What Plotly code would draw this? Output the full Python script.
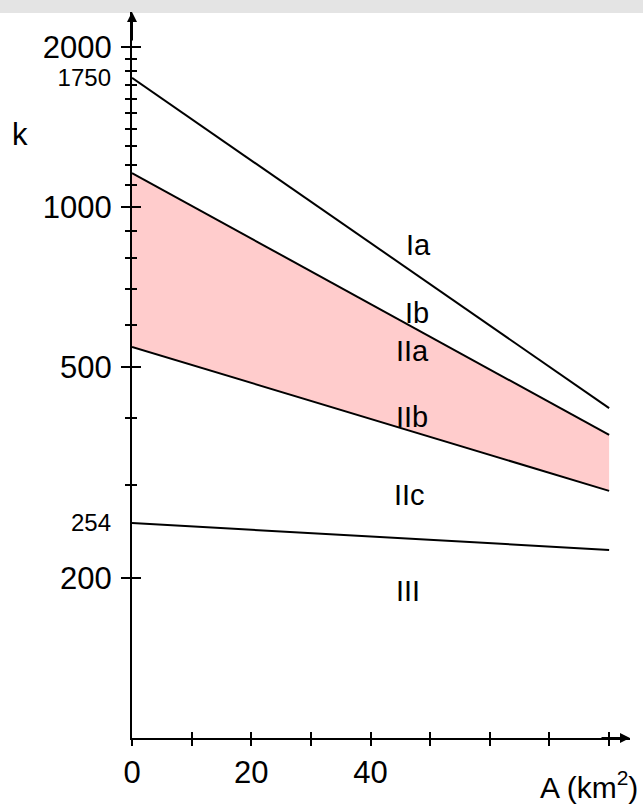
import math
import plotly.graph_objects as go

# ---- data ----
area = [0, 80]                 # A (km^2), start and end of every boundary line
k_Ia = [1750, 418]             # upper line (Ia)
k_upper = [1158, 372]          # Ib / IIa boundary (top of shaded band)
k_lower = [545, 292]           # IIb / IIc boundary (bottom of shaded band)
k_III = [254, 226]             # IIc / III boundary

zone_labels = ["Ia", "Ib", "IIa", "IIb", "IIc", "III"]
label_A = [48.0, 47.8, 47.0, 47.0, 46.6, 46.3]
label_k = [847, 631, 535, 402, 287, 189]

y_major = [200, 500, 1000, 2000]
y_minor = [300, 400, 600, 700, 800, 900, 1100, 1200, 1300, 1400, 1500,
           1600, 1700, 1800, 1900]
y_special = [254, 1750]
x_labeled = [0, 20, 40]
x_minor = [10, 30, 50, 60, 70, 80]

FONT = "Liberation Sans, Arial, sans-serif"
BLACK = "#000000"
PINK = "#ffcccc"

fig = go.Figure()

# shaded band between the two middle boundaries
fig.add_trace(go.Scatter(
    x=area + area[::-1], y=k_lower + k_upper[::-1],
    fill="toself", fillcolor=PINK, line=dict(width=0),
    mode="lines", hoverinfo="skip", showlegend=False))

for ys in (k_Ia, k_upper, k_lower, k_III):
    fig.add_trace(go.Scatter(x=area, y=ys, mode="lines",
                             line=dict(color=BLACK, width=2),
                             showlegend=False, hoverinfo="skip"))

# empty traces so the overlay axes are drawn
fig.add_trace(go.Scatter(x=[], y=[], xaxis="x2", yaxis="y2", showlegend=False))
fig.add_trace(go.Scatter(x=[], y=[], xaxis="x", yaxis="y3", showlegend=False))

for lab, xa, ka in zip(zone_labels, label_A, label_k):
    fig.add_annotation(x=xa, y=math.log10(ka), text=lab,
                       showarrow=False, xanchor="center", yanchor="middle",
                       font=dict(family=FONT, size=29, color=BLACK))

YR = [2, 3.367]
XR = [0, 83.5]

tick_common = dict(tickwidth=2, tickcolor=BLACK, showgrid=False, zeroline=False)

fig.update_layout(
    width=643, height=804,
    margin=dict(l=132, r=13, t=12, b=66),
    paper_bgcolor="white", plot_bgcolor="white",
    font=dict(family=FONT, color=BLACK),
    xaxis=dict(range=XR, showline=True, linecolor=BLACK, linewidth=2,
               ticks="outside", ticklen=6, tickvals=x_labeled,
               ticktext=[str(v) for v in x_labeled],
               tickfont=dict(size=31, family=FONT, color=BLACK),
               minor=dict(tickmode="array", tickvals=x_minor, ticks="outside",
                          ticklen=6, tickwidth=2, tickcolor=BLACK,
                          showgrid=False),
               anchor="y", **tick_common),
    xaxis2=dict(range=XR, overlaying="x", side="bottom", anchor="y",
                showline=False, ticks="inside", ticklen=6,
                tickvals=x_labeled + x_minor, showticklabels=False,
                **tick_common),
    yaxis=dict(type="log", range=YR, showline=True, linecolor=BLACK,
               linewidth=2, ticks="outside", ticklen=9, tickvals=y_major,
               ticktext=[str(v) for v in y_major],
               tickfont=dict(size=31, family=FONT, color=BLACK),
               ticklabelstandoff=3,
               minor=dict(tickmode="array", tickvals=y_minor, ticks="outside",
                          ticklen=5, tickwidth=2, tickcolor=BLACK,
                          showgrid=False),
               anchor="x", **tick_common),
    yaxis2=dict(type="log", range=YR, overlaying="y", side="left",
                anchor="x", showline=False, ticks="inside", ticklen=9,
                tickvals=y_major, showticklabels=False,
                minor=dict(tickmode="array", tickvals=y_minor, ticks="inside",
                           ticklen=5, tickwidth=2, tickcolor=BLACK,
                           showgrid=False),
                **tick_common),
    yaxis3=dict(type="log", range=YR, overlaying="y", side="left",
                anchor="x", showline=False, ticks="", tickvals=y_special,
                ticktext=[str(v) for v in y_special],
                tickfont=dict(size=24, family=FONT, color=BLACK),
                ticklabelstandoff=20, showgrid=False, zeroline=False),
)

# axis arrows
fig.add_annotation(xref="paper", yref="paper", x=0, y=1, ax=0, ay=30,
                   text="", showarrow=True, arrowhead=2, arrowsize=1,
                   arrowwidth=2, arrowcolor=BLACK)
fig.add_annotation(xref="paper", yref="paper", x=1, y=0, ax=-30, ay=0,
                   text="", showarrow=True, arrowhead=2, arrowsize=1,
                   arrowwidth=2, arrowcolor=BLACK)

# axis titles
fig.add_annotation(xref="paper", yref="paper", x=-0.225, y=0.8306, text="k",
                   showarrow=False, xanchor="center", yanchor="middle",
                   font=dict(family=FONT, size=31, color=BLACK))
fig.add_annotation(xref="paper", yref="paper", x=1.0201, y=-0.0647,
                   text="A (km<sup>2</sup>)", showarrow=False,
                   xanchor="right", yanchor="middle",
                   font=dict(family=FONT, size=30, color=BLACK))

# grey strip across the top of the page
fig.add_shape(type="rect", xref="paper", yref="paper", x0=-0.5, x1=1.5,
              y0=1 - 1 / 726, y1=1.03, fillcolor="#e4e4e4", line=dict(width=0),
              layer="below")

fig.write_html("out.html",
               config={"displayModeBar": False},
               post_script="document.body.style.margin='0';"
                           "document.body.style.overflow='hidden';")
